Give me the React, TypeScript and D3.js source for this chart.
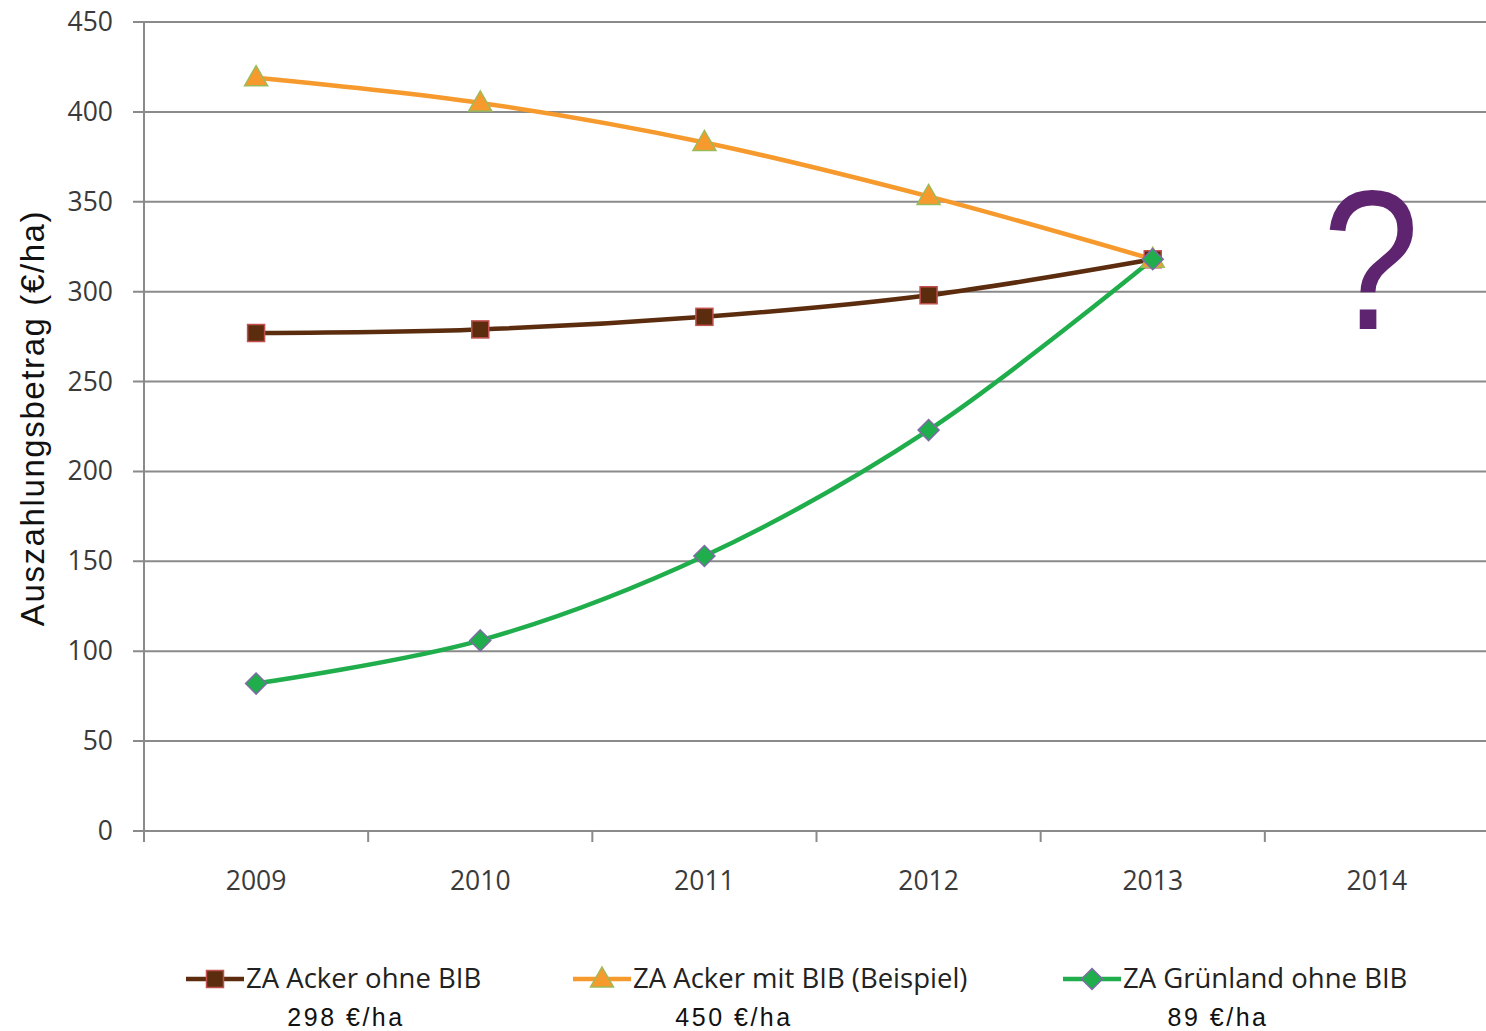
import React from "react";
import * as d3 from "d3";

const years = ["2009", "2010", "2011", "2012", "2013", "2014"];
const yTicks = [0, 50, 100, 150, 200, 250, 300, 350, 400, 450];

const ackerOhne = [277, 279, 286, 298, 318];
const ackerMit = [419, 405, 383, 353, 318];
const gruenland = [82, 106, 153, 223, 318];

const seriesNames = ["ZA Acker ohne BIB", "ZA Acker mit BIB (Beispiel)", "ZA Grünland ohne BIB"];
const seriesNotes = ["298 €/ha", "450 €/ha", "89 €/ha"];

const App: React.FC = () => {
  const width = 1486;
  const height = 1031;
  const margin = { top: 22, right: 0, bottom: 200, left: 144 };

  const x = d3.scaleBand<string>().domain(years).range([margin.left, 1489]);
  const y = d3.scaleLinear().domain([0, 450]).range([height - margin.bottom, margin.top]);

  const line = d3
    .line<number>()
    .x((_, i) => (x(years[i]) ?? 0) + x.bandwidth() / 2)
    .y((d) => y(d))
    .curve(d3.curveCatmullRom.alpha(0.5));

  const series = [
    { name: seriesNames[0], note: seriesNotes[0], values: ackerOhne, color: "#5b2c0e", stroke: "#c0504d", shape: "square" },
    { name: seriesNames[1], note: seriesNotes[1], values: ackerMit, color: "#f79a2e", stroke: "#9bbb59", shape: "triangle" },
    { name: seriesNames[2], note: seriesNotes[2], values: gruenland, color: "#1fae4b", stroke: "#7f6aa6", shape: "diamond" },
  ];

  const marker = (shape: string, cx: number, cy: number, fill: string, stroke: string, key?: string | number) => {
    if (shape === "square")
      return <rect key={key} x={cx - 8.5} y={cy - 8.5} width={17} height={17} fill={fill} stroke={stroke} strokeWidth={1.5} />;
    if (shape === "triangle")
      return <path key={key} d={`M${cx},${cy - 12}L${cx + 11.5},${cy + 8}L${cx - 11.5},${cy + 8}Z`} fill={fill} stroke={stroke} strokeWidth={1.5} />;
    return <path key={key} d={`M${cx},${cy - 10.5}L${cx + 10.5},${cy}L${cx},${cy + 10.5}L${cx - 10.5},${cy}Z`} fill={fill} stroke={stroke} strokeWidth={1.5} />;
  };

  const legendX = [186, 573, 1063];
  const noteX = [346, 734, 1218];
  const tickFont = "'Open Sans', sans-serif";

  return (
    <svg width={width} height={height} style={{ position: "absolute", left: 0, top: 0, background: "#fff" }}>
      {/* Gitterlinien */}
      {yTicks.map((t) => (
        <g key={t}>
          <line x1={133} x2={width} y1={y(t)} y2={y(t)} stroke="#8a8a8a" strokeWidth={2} />
          <text x={113} y={y(t) + 9} textAnchor="end" fontFamily={tickFont} fontSize={26.5} fill="#3a3a3a">
            {t}
          </text>
        </g>
      ))}
      {/* Achsen */}
      <line x1={margin.left} x2={margin.left} y1={y(450)} y2={y(0) + 11} stroke="#8a8a8a" strokeWidth={2} />
      {years.map((yr) => (
        <g key={yr}>
          <line x1={x(yr) ?? 0} x2={x(yr) ?? 0} y1={y(0)} y2={y(0) + 11} stroke="#8a8a8a" strokeWidth={2} />
          <text x={(x(yr) ?? 0) + x.bandwidth() / 2} y={890} textAnchor="middle" fontFamily={tickFont} fontSize={26.5} fill="#3a3a3a">
            {yr}
          </text>
        </g>
      ))}
      <text
        transform={`translate(44,418) rotate(-90)`}
        textAnchor="middle"
        fontFamily="'Liberation Sans', Arial, sans-serif"
        fontSize={33}
        letterSpacing={1.6}
        fill="#111"
      >
        Auszahlungsbetrag (€/ha)
      </text>
      {/* Linien */}
      {series.map((s) => (
        <path key={s.name} d={line(s.values) ?? ""} fill="none" stroke={s.color} strokeWidth={4.5} />
      ))}
      {series.map((s) =>
        s.values.map((v, i) => marker(s.shape, (x(years[i]) ?? 0) + x.bandwidth() / 2, y(v), s.color, s.stroke, `${s.name}-${i}`))
      )}
      {/* Fragezeichen */}
      <text
        transform="translate(1371,329) scale(0.88,1)"
        textAnchor="middle"
        fontFamily="'Liberation Sans', Arial, sans-serif"
        fontSize={198}
        fill="#5e2470"
      >
        ?
      </text>
      {/* Legende */}
      {series.map((s, i) => (
        <g key={s.name}>
          <line x1={legendX[i]} x2={legendX[i] + 58} y1={979} y2={979} stroke={s.color} strokeWidth={4.5} />
          {marker(s.shape, legendX[i] + 29, 979, s.color, s.stroke)}
          <text x={legendX[i] + 60} y={988} fontFamily={tickFont} fontSize={27.5} fill="#222">
            {s.name}
          </text>
          <text x={noteX[i]} y={1026} textAnchor="middle" fontFamily="'Liberation Sans', Arial, sans-serif" fontSize={25} letterSpacing={2.5} fill="#111">
            {s.note}
          </text>
        </g>
      ))}
    </svg>
  );
};

export default App;
